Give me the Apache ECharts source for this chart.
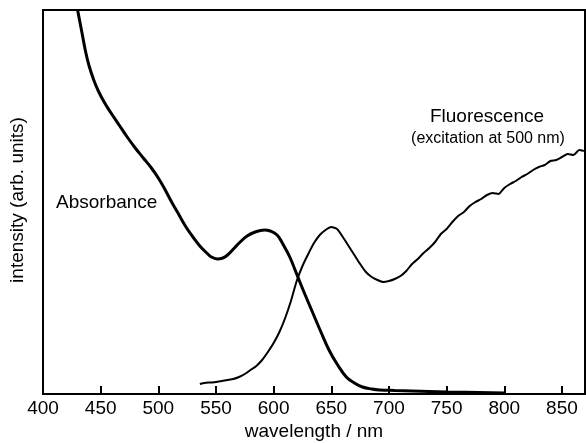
<!DOCTYPE html>
<html>
<head>
<meta charset="utf-8">
<script src="https://cdn.jsdelivr.net/npm/echarts@6/dist/echarts.min.js"></script>
<style>html,body{margin:0;padding:0;background:#fff}#c{width:586px;height:443px}</style>
</head>
<body>
<div id="c"></div>
<script>
// wavelength (nm) and intensity (arb. units, 0..384)
var absWl = [430,432,434,437,440,444,448,453,459,466,473,480,487,494,500,506,512,518,524,530,536,542,546,551,556,560,566,571,577,584,592,597,603,608,614,621,627,634,641,648,655,663,670,677,685,692,705,720,750,800];
var absVal = [384,372,360,342,328,314,303,292,281,269,257,246,236,226,216,204,191,179,167,157,148,141,137,135,136,139,146,152,158,162,164,163,159,150,137,117,100,81,62,44,30,17,11,7,5,4,3.5,3,2,1];
var fluWl = [536,540,545,550,555,560,565,570,575,580,585,590,595,600,605,610,615,620,625,630,635,640,645,650,655,660,665,670,675,680,685,690,695,700,705,710,715,720,725,730,735,740,745,750,755,760,765,770,775,780,785,790,795,800,805,810,815,820,825,830,835,840,845,850,855,860,865,869];
var fluVal = [10,11,11.5,12,13,14,15,17,20,24,28,34,42,51,62,76,93,113,128,140,151,159,164,167,165,157,148,139,130,122,117,114,112,113,115,118,123,130,135,141,146,152,160,165,172,178,182,188,192,195,199,201,200,206,210,213,217,220,224,227,229,233,234,237,240,239,244,243];
var xTicks = [400,450,500,550,600,650,700,750,800,850];
var labels = {abs: 'Absorbance', flu: 'Fluorescence', exc: '(excitation at 500 nm)', xName: 'wavelength / nm', yName: 'intensity (arb. units)'};

function pairs(a, b){ return a.map(function(v,i){ return [v, b[i]]; }); }
var FONT = '"Liberation Sans", Arial, Helvetica, sans-serif';
var chart = echarts.init(document.getElementById('c'));
chart.setOption({
  animation: false,
  backgroundColor: '#fff',
  grid: {left: 43, right: 1, top: 10, bottom: 49, show: true, borderColor: '#000', borderWidth: 2},
  xAxis: {
    type: 'value', min: 400, max: 870, interval: 50,
    axisLine: {lineStyle: {color: '#000', width: 2}},
    axisTick: {inside: true, length: 8, lineStyle: {color: '#000', width: 2}},
    axisLabel: {color: '#000', fontSize: 19, fontFamily: FONT, margin: 5, showMaxLabel: false,
      formatter: function(v){ return xTicks.indexOf(v) >= 0 ? String(v) : ''; }},
    splitLine: {show: false}
  },
  yAxis: {type: 'value', min: 0, max: 384, show: false, splitLine: {show: false}},
  series: [
    {type: 'line', data: pairs(absWl, absVal), smooth: 0.4, showSymbol: false, symbol: 'none',
     lineStyle: {color: '#000', width: 3}},
    {type: 'line', data: pairs(fluWl, fluVal), smooth: 0.2, showSymbol: false, symbol: 'none',
     lineStyle: {color: '#000', width: 2}}
  ],
  graphic: [
    {type: 'text', x: 56, y: 203, style: {text: labels.abs, font: '19px ' + FONT, fill: '#000', textAlign: 'left', textVerticalAlign: 'middle'}},
    {type: 'text', x: 487, y: 117, style: {text: labels.flu, font: '19px ' + FONT, fill: '#000', textAlign: 'center', textVerticalAlign: 'middle'}},
    {type: 'text', x: 488, y: 139, style: {text: labels.exc, font: '16px ' + FONT, fill: '#000', textAlign: 'center', textVerticalAlign: 'middle'}},
    {type: 'text', x: 314, y: 432, style: {text: labels.xName, font: '19px ' + FONT, fill: '#000', textAlign: 'center', textVerticalAlign: 'middle'}},
    {type: 'text', x: 18, y: 200, rotation: Math.PI / 2, style: {text: labels.yName, font: '19px ' + FONT, fill: '#000', textAlign: 'center', textVerticalAlign: 'middle'}}
  ]
});
</script>
</body>
</html>
